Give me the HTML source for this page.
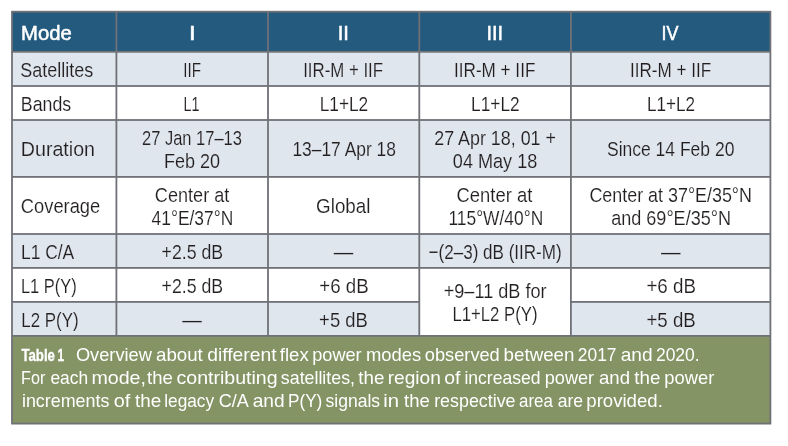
<!DOCTYPE html>
<html lang="en"><head><meta charset="utf-8"><title>Table 1 – Flex power modes</title>
<style>
html,body{margin:0;padding:0;background:#fff;}
body{width:788px;height:446px;overflow:hidden;}
svg{display:block;}
text{font-family:"Liberation Sans",Arial,Helvetica,sans-serif;white-space:pre;font-size:20.5px;fill:#231f20;}
text.h{fill:#fff;stroke:#fff;stroke-width:0.5px;font-size:19.4px;}
text.L{stroke:#dfe6ee;stroke-width:0.14px;}
text.W{stroke:#ffffff;stroke-width:0.14px;}
text.c{fill:#fff;font-size:18.5px;}
text.cb{fill:#fff;font-size:17.4px;font-weight:bold;stroke:#fff;stroke-width:0.35px;}
</style></head><body>
<svg width="788" height="446" viewBox="0 0 788 446">
<rect width="788" height="446" fill="#fff"/>
<rect x="11.10" y="10.80" width="760.20" height="413.70" fill="#6f7176"/>
<rect x="12.90" y="12.60" width="102.60" height="38.30" fill="#245a7e"/>
<rect x="117.30" y="12.60" width="149.80" height="38.30" fill="#245a7e"/>
<rect x="268.90" y="12.60" width="149.50" height="38.30" fill="#245a7e"/>
<rect x="420.20" y="12.60" width="149.80" height="38.30" fill="#245a7e"/>
<rect x="571.80" y="12.60" width="197.70" height="38.30" fill="#245a7e"/>
<rect x="12.90" y="52.70" width="102.60" height="32.40" fill="#dfe6ee"/>
<rect x="117.30" y="52.70" width="149.80" height="32.40" fill="#dfe6ee"/>
<rect x="268.90" y="52.70" width="149.50" height="32.40" fill="#dfe6ee"/>
<rect x="420.20" y="52.70" width="149.80" height="32.40" fill="#dfe6ee"/>
<rect x="571.80" y="52.70" width="197.70" height="32.40" fill="#dfe6ee"/>
<rect x="12.90" y="86.90" width="102.60" height="32.20" fill="#ffffff"/>
<rect x="117.30" y="86.90" width="149.80" height="32.20" fill="#ffffff"/>
<rect x="268.90" y="86.90" width="149.50" height="32.20" fill="#ffffff"/>
<rect x="420.20" y="86.90" width="149.80" height="32.20" fill="#ffffff"/>
<rect x="571.80" y="86.90" width="197.70" height="32.20" fill="#ffffff"/>
<rect x="12.90" y="120.90" width="102.60" height="55.10" fill="#dfe6ee"/>
<rect x="117.30" y="120.90" width="149.80" height="55.10" fill="#dfe6ee"/>
<rect x="268.90" y="120.90" width="149.50" height="55.10" fill="#dfe6ee"/>
<rect x="420.20" y="120.90" width="149.80" height="55.10" fill="#dfe6ee"/>
<rect x="571.80" y="120.90" width="197.70" height="55.10" fill="#dfe6ee"/>
<rect x="12.90" y="177.80" width="102.60" height="55.30" fill="#ffffff"/>
<rect x="117.30" y="177.80" width="149.80" height="55.30" fill="#ffffff"/>
<rect x="268.90" y="177.80" width="149.50" height="55.30" fill="#ffffff"/>
<rect x="420.20" y="177.80" width="149.80" height="55.30" fill="#ffffff"/>
<rect x="571.80" y="177.80" width="197.70" height="55.30" fill="#ffffff"/>
<rect x="12.90" y="234.90" width="102.60" height="32.10" fill="#dfe6ee"/>
<rect x="117.30" y="234.90" width="149.80" height="32.10" fill="#dfe6ee"/>
<rect x="268.90" y="234.90" width="149.50" height="32.10" fill="#dfe6ee"/>
<rect x="420.20" y="234.90" width="149.80" height="32.10" fill="#dfe6ee"/>
<rect x="571.80" y="234.90" width="197.70" height="32.10" fill="#dfe6ee"/>
<rect x="12.90" y="268.80" width="102.60" height="32.20" fill="#ffffff"/>
<rect x="117.30" y="268.80" width="149.80" height="32.20" fill="#ffffff"/>
<rect x="268.90" y="268.80" width="149.50" height="32.20" fill="#ffffff"/>
<rect x="571.80" y="268.80" width="197.70" height="32.20" fill="#ffffff"/>
<rect x="12.90" y="302.80" width="102.60" height="32.20" fill="#dfe6ee"/>
<rect x="117.30" y="302.80" width="149.80" height="32.20" fill="#dfe6ee"/>
<rect x="268.90" y="302.80" width="149.50" height="32.20" fill="#dfe6ee"/>
<rect x="571.80" y="302.80" width="197.70" height="32.20" fill="#dfe6ee"/>
<rect x="420.20" y="268.80" width="149.80" height="66.20" fill="#ffffff"/>
<rect x="12.90" y="336.80" width="756.60" height="85.90" fill="#859465"/>
<text class="h" x="21.05" y="40.00" textLength="50.71" lengthAdjust="spacingAndGlyphs">Mode</text>
<text class="h" x="189.01" y="40.00" textLength="6.65" lengthAdjust="spacingAndGlyphs">I</text>
<text class="h" x="337.73" y="40.00" textLength="11.26" lengthAdjust="spacingAndGlyphs">II</text>
<text class="h" x="486.51" y="40.00" textLength="16.64" lengthAdjust="spacingAndGlyphs">III</text>
<text class="h" x="661.46" y="40.00" textLength="16.95" lengthAdjust="spacingAndGlyphs">IV</text>
<text class="L" x="20.32" y="76.70" textLength="72.97" lengthAdjust="spacingAndGlyphs">Satellites</text>
<text class="L" x="183.37" y="76.70" textLength="17.74" lengthAdjust="spacingAndGlyphs">IIF</text>
<text class="L" x="303.15" y="76.70" textLength="79.92" lengthAdjust="spacingAndGlyphs">IIR-M + IIF</text>
<text class="L" x="454.00" y="76.70" textLength="81.35" lengthAdjust="spacingAndGlyphs">IIR-M + IIF</text>
<text class="L" x="629.95" y="76.70" textLength="81.18" lengthAdjust="spacingAndGlyphs">IIR-M + IIF</text>
<text class="W" x="20.80" y="111.20" textLength="50.46" lengthAdjust="spacingAndGlyphs">Bands</text>
<text class="W" x="183.60" y="111.20" textLength="15.90" lengthAdjust="spacingAndGlyphs">L1</text>
<text class="W" x="319.73" y="111.20" textLength="48.51" lengthAdjust="spacingAndGlyphs">L1+L2</text>
<text class="W" x="471.12" y="111.20" textLength="48.54" lengthAdjust="spacingAndGlyphs">L1+L2</text>
<text class="W" x="646.89" y="111.20" textLength="48.18" lengthAdjust="spacingAndGlyphs">L1+L2</text>
<text class="L" x="20.77" y="155.80" textLength="74.26" lengthAdjust="spacingAndGlyphs">Duration</text>
<text class="L" x="141.96" y="145.20" textLength="100.00" lengthAdjust="spacingAndGlyphs">27 Jan 17–13</text>
<text class="L" x="163.98" y="167.90" textLength="56.10" lengthAdjust="spacingAndGlyphs">Feb 20</text>
<text class="L" x="292.43" y="155.70" textLength="103.51" lengthAdjust="spacingAndGlyphs">13–17 Apr 18</text>
<text class="L" x="434.23" y="145.20" textLength="121.70" lengthAdjust="spacingAndGlyphs">27 Apr 18, 01 +</text>
<text class="L" x="452.84" y="167.90" textLength="84.46" lengthAdjust="spacingAndGlyphs">04 May 18</text>
<text class="L" x="607.00" y="155.70" textLength="127.37" lengthAdjust="spacingAndGlyphs">Since 14 Feb 20</text>
<text class="W" x="20.86" y="213.00" textLength="79.37" lengthAdjust="spacingAndGlyphs">Coverage</text>
<text class="W" x="154.87" y="202.10" textLength="74.43" lengthAdjust="spacingAndGlyphs">Center at</text>
<text class="W" x="151.61" y="224.70" textLength="81.59" lengthAdjust="spacingAndGlyphs">41°E/37°N</text>
<text class="W" x="316.10" y="213.00" textLength="54.30" lengthAdjust="spacingAndGlyphs">Global</text>
<text class="W" x="456.51" y="202.10" textLength="75.79" lengthAdjust="spacingAndGlyphs">Center at</text>
<text class="W" x="448.43" y="224.70" textLength="94.78" lengthAdjust="spacingAndGlyphs">115°W/40°N</text>
<text class="W" x="589.43" y="202.30" textLength="162.50" lengthAdjust="spacingAndGlyphs">Center at 37°E/35°N</text>
<text class="W" x="611.18" y="224.50" textLength="119.81" lengthAdjust="spacingAndGlyphs">and 69°E/35°N</text>
<text class="L" x="20.96" y="258.60" textLength="53.28" lengthAdjust="spacingAndGlyphs">L1 C/A</text>
<text class="L" x="161.56" y="258.60" textLength="61.53" lengthAdjust="spacingAndGlyphs">+2.5 dB</text>
<text class="L" x="333.83" y="259.00" textLength="19.49" lengthAdjust="spacingAndGlyphs">—</text>
<text class="L" x="428.55" y="258.60" textLength="133.11" lengthAdjust="spacingAndGlyphs">−(2–3) dB (IIR-M)</text>
<text class="L" x="661.12" y="259.00" textLength="19.57" lengthAdjust="spacingAndGlyphs">—</text>
<text class="W" x="20.98" y="292.90" textLength="55.64" lengthAdjust="spacingAndGlyphs">L1 P(Y)</text>
<text class="W" x="161.59" y="292.90" textLength="61.49" lengthAdjust="spacingAndGlyphs">+2.5 dB</text>
<text class="W" x="319.24" y="292.90" textLength="49.42" lengthAdjust="spacingAndGlyphs">+6 dB</text>
<text class="W" x="646.40" y="292.90" textLength="49.53" lengthAdjust="spacingAndGlyphs">+6 dB</text>
<text class="L" x="21.37" y="326.70" textLength="57.21" lengthAdjust="spacingAndGlyphs">L2 P(Y)</text>
<text class="L" x="182.33" y="327.10" textLength="19.59" lengthAdjust="spacingAndGlyphs">—</text>
<text class="L" x="319.12" y="326.70" textLength="48.72" lengthAdjust="spacingAndGlyphs">+5 dB</text>
<text class="L" x="646.49" y="326.70" textLength="49.19" lengthAdjust="spacingAndGlyphs">+5 dB</text>
<text class="W" x="443.70" y="298.00" textLength="102.86" lengthAdjust="spacingAndGlyphs">+9–11 dB for</text>
<text class="W" x="452.44" y="320.80" textLength="85.08" lengthAdjust="spacingAndGlyphs">L1+L2 P(Y)</text>
<text class="cb" x="21.40" y="360.90" textLength="33.58" lengthAdjust="spacingAndGlyphs">Table</text>
<text class="cb" x="57.61" y="360.90" textLength="6.56" lengthAdjust="spacingAndGlyphs">1</text>
<text class="c" x="75.93" y="361.10" textLength="76.01" lengthAdjust="spacingAndGlyphs">Overview</text>
<text class="c" x="156.00" y="361.10" textLength="46.80" lengthAdjust="spacingAndGlyphs">about</text>
<text class="c" x="207.17" y="361.10" textLength="69.39" lengthAdjust="spacingAndGlyphs">different</text>
<text class="c" x="279.85" y="361.10" textLength="28.85" lengthAdjust="spacingAndGlyphs">flex</text>
<text class="c" x="312.21" y="361.10" textLength="49.46" lengthAdjust="spacingAndGlyphs">power</text>
<text class="c" x="365.94" y="361.10" textLength="55.31" lengthAdjust="spacingAndGlyphs">modes</text>
<text class="c" x="424.82" y="361.10" textLength="74.94" lengthAdjust="spacingAndGlyphs">observed</text>
<text class="c" x="503.61" y="361.10" textLength="70.80" lengthAdjust="spacingAndGlyphs">between</text>
<text class="c" x="577.82" y="361.10" textLength="38.75" lengthAdjust="spacingAndGlyphs">2017</text>
<text class="c" x="620.72" y="361.10" textLength="31.91" lengthAdjust="spacingAndGlyphs">and</text>
<text class="c" x="655.91" y="361.10" textLength="43.77" lengthAdjust="spacingAndGlyphs">2020.</text>
<text class="c" x="21.05" y="384.10" textLength="24.22" lengthAdjust="spacingAndGlyphs">For</text>
<text class="c" x="50.46" y="384.10" textLength="37.67" lengthAdjust="spacingAndGlyphs">each</text>
<text class="c" x="91.42" y="384.10" textLength="54.58" lengthAdjust="spacingAndGlyphs">mode,</text>
<text class="c" x="147.03" y="384.10" textLength="25.73" lengthAdjust="spacingAndGlyphs">the</text>
<text class="c" x="176.51" y="384.10" textLength="101.09" lengthAdjust="spacingAndGlyphs">contributing</text>
<text class="c" x="280.86" y="384.10" textLength="74.13" lengthAdjust="spacingAndGlyphs">satellites,</text>
<text class="c" x="358.33" y="384.10" textLength="26.04" lengthAdjust="spacingAndGlyphs">the</text>
<text class="c" x="387.72" y="384.10" textLength="53.08" lengthAdjust="spacingAndGlyphs">region</text>
<text class="c" x="444.29" y="384.10" textLength="16.18" lengthAdjust="spacingAndGlyphs">of</text>
<text class="c" x="464.43" y="384.10" textLength="75.99" lengthAdjust="spacingAndGlyphs">increased</text>
<text class="c" x="544.74" y="384.10" textLength="49.37" lengthAdjust="spacingAndGlyphs">power</text>
<text class="c" x="599.02" y="384.10" textLength="30.96" lengthAdjust="spacingAndGlyphs">and</text>
<text class="c" x="634.33" y="384.10" textLength="26.04" lengthAdjust="spacingAndGlyphs">the</text>
<text class="c" x="664.34" y="384.10" textLength="49.98" lengthAdjust="spacingAndGlyphs">power</text>
<text class="c" x="21.91" y="407.00" textLength="87.54" lengthAdjust="spacingAndGlyphs">increments</text>
<text class="c" x="113.84" y="407.00" textLength="16.57" lengthAdjust="spacingAndGlyphs">of</text>
<text class="c" x="135.13" y="407.00" textLength="26.20" lengthAdjust="spacingAndGlyphs">the</text>
<text class="c" x="164.25" y="407.00" textLength="49.86" lengthAdjust="spacingAndGlyphs">legacy</text>
<text class="c" x="218.64" y="407.00" textLength="30.11" lengthAdjust="spacingAndGlyphs">C/A</text>
<text class="c" x="252.65" y="407.00" textLength="31.94" lengthAdjust="spacingAndGlyphs">and</text>
<text class="c" x="287.97" y="407.00" textLength="34.36" lengthAdjust="spacingAndGlyphs">P(Y)</text>
<text class="c" x="325.49" y="407.00" textLength="54.60" lengthAdjust="spacingAndGlyphs">signals</text>
<text class="c" x="383.24" y="407.00" textLength="15.75" lengthAdjust="spacingAndGlyphs">in</text>
<text class="c" x="404.03" y="407.00" textLength="25.73" lengthAdjust="spacingAndGlyphs">the</text>
<text class="c" x="434.16" y="407.00" textLength="81.37" lengthAdjust="spacingAndGlyphs">respective</text>
<text class="c" x="519.05" y="407.00" textLength="33.83" lengthAdjust="spacingAndGlyphs">area</text>
<text class="c" x="557.65" y="407.00" textLength="25.34" lengthAdjust="spacingAndGlyphs">are</text>
<text class="c" x="586.30" y="407.00" textLength="76.51" lengthAdjust="spacingAndGlyphs">provided.</text>
</svg>
</body></html>
